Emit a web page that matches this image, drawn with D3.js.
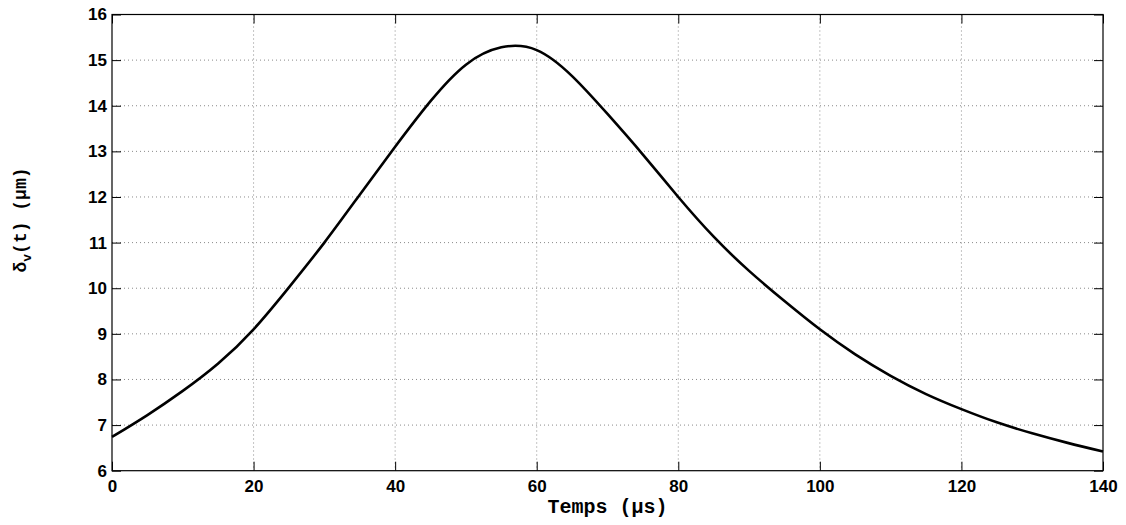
<!DOCTYPE html>
<html><head><meta charset="utf-8">
<script src="https://cdn.jsdelivr.net/npm/d3@7"></script>
<style>
html,body{margin:0;padding:0;background:#fff;}
svg{display:block;}
</style></head>
<body>
<svg id="chart" width="1126" height="525"></svg>
<script>
// Data
const timeUs = [0, 5, 10, 15, 20, 25, 30, 35, 40, 45, 50, 55, 60, 65, 70, 75, 80, 85, 90, 95, 100, 105, 110, 115, 120, 125, 130, 135, 140];
const deltaV = [6.74, 7.22, 7.75, 8.35, 9.10, 10.02, 11.0, 12.05, 13.1, 14.1, 14.9, 15.28, 15.22, 14.65, 13.82, 12.93, 12.0, 11.13, 10.38, 9.72, 9.1, 8.55, 8.08, 7.68, 7.35, 7.06, 6.82, 6.61, 6.42];
const xTicks = [0, 20, 40, 60, 80, 100, 120, 140];
const yTicks = [6, 7, 8, 9, 10, 11, 12, 13, 14, 15, 16];

const L = 112, R = 1103, T = 14.5, B = 470.7;
const svg = d3.select("#chart");
const x = d3.scaleLinear().domain([0, 140]).range([L, R]);
const y = d3.scaleLinear().domain([6, 16]).range([B, T]);

// grid
const g = svg.append("g");
g.selectAll(".vg").data(xTicks.slice(1, -1)).enter().append("line")
  .attr("x1", d => x(d)).attr("x2", d => x(d)).attr("y1", T).attr("y2", B)
  .attr("stroke", "#8a8a8a").attr("stroke-width", 1).attr("stroke-dasharray", "1,3");
g.selectAll(".hg").data(yTicks.slice(1, -1)).enter().append("line")
  .attr("y1", d => y(d)).attr("y2", d => y(d)).attr("x1", L).attr("x2", R)
  .attr("stroke", "#8a8a8a").attr("stroke-width", 1).attr("stroke-dasharray", "1,3");

// axes with inward ticks
const tickLen = 9;
const fontT = "'Liberation Sans', Arial, sans-serif";
const xAxisB = d3.axisBottom(x).tickValues(xTicks).tickSize(-tickLen).tickFormat(d3.format("d"));
const xAxisT = d3.axisTop(x).tickValues(xTicks).tickSize(-tickLen).tickFormat("");
const yAxisL = d3.axisLeft(y).tickValues(yTicks).tickSize(-tickLen).tickFormat(d3.format("d"));
const yAxisR = d3.axisRight(y).tickValues(yTicks).tickSize(-tickLen).tickFormat("");

function style(sel) {
  sel.select(".domain").remove();
  sel.selectAll(".tick line").attr("stroke", "#000").attr("stroke-width", 1);
  sel.selectAll(".tick text").attr("fill", "#000").style("font-family", fontT)
    .style("font-size", "17px").style("font-weight", "bold");
}
const gxb = svg.append("g").attr("transform", `translate(0,${B})`).call(xAxisB); style(gxb);
gxb.selectAll(".tick text").attr("dy", "0.71em").attr("y", 9);
const gxt = svg.append("g").attr("transform", `translate(0,${T})`).call(xAxisT); style(gxt);
const gyl = svg.append("g").attr("transform", `translate(${L},0)`).call(yAxisL); style(gyl);
gyl.selectAll(".tick text").attr("x", -5);
const gyr = svg.append("g").attr("transform", `translate(${R},0)`).call(yAxisR); style(gyr);

// frame
svg.append("rect").attr("x", L).attr("y", T).attr("width", R - L).attr("height", B - T)
  .attr("fill", "none").attr("stroke", "#000").attr("stroke-width", 1.2);

// curve
const pts = timeUs.map((t, i) => [t, deltaV[i]]);
svg.append("path").datum(pts)
  .attr("fill", "none").attr("stroke", "#000").attr("stroke-width", 2.6)
  .attr("d", d3.line().x(d => x(d[0])).y(d => y(d[1])).curve(d3.curveNatural));

// axis labels
const fontL = "'Liberation Mono', 'Courier New', monospace";
svg.append("text").attr("x", (L + R) / 2).attr("y", 513).attr("text-anchor", "middle")
  .style("font-family", fontL).style("font-size", "20px").style("font-weight", "bold")
  .text("Temps (µs)");

const yl = svg.append("text").attr("transform", "translate(26,220) rotate(-90)")
  .attr("text-anchor", "middle")
  .style("font-family", fontL).style("font-size", "18px").style("font-weight", "bold");
yl.append("tspan").text("δ");
yl.append("tspan").attr("dy", 5).style("font-size", "13px").text("v");
yl.append("tspan").attr("dy", -5).text("(t) (µm)");
</script>
</body></html>
